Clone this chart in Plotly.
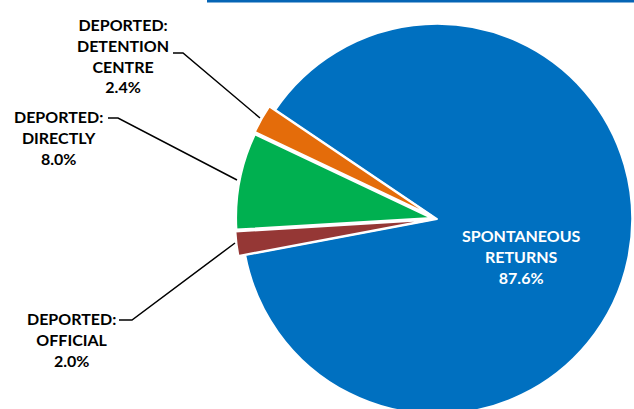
import plotly.graph_objects as go

# Share of returns by type (%)
labels = ["SPONTANEOUS RETURNS", "DEPORTED: OFFICIAL", "DEPORTED: DIRECTLY", "DEPORTED: DETENTION CENTRE"]
values = [87.6, 2.0, 8.0, 2.4]
colors = ["#0070C0", "#953735", "#00B050", "#E46C0A"]
pulls = [0, 0.035, 0.03, 0.035]

label_text = [
    "SPONTANEOUS<br>RETURNS<br>87.6%",
    "DEPORTED:<br>OFFICIAL<br>2.0%",
    "DEPORTED:<br>DIRECTLY<br>8.0%",
    "DEPORTED:<br>DETENTION<br>CENTRE<br>2.4%",
]

W, H = 640, 438


def px(x):
    return x / W


def py(y):
    return 1 - y / H


fig = go.Figure()

fig.add_trace(
    go.Pie(
        labels=labels,
        values=values,
        sort=False,
        direction="clockwise",
        rotation=-56,
        pull=pulls,
        marker=dict(colors=colors, line=dict(color="white", width=2)),
        textinfo="none",
        hoverinfo="label+percent",
        domain=dict(x=[px(437 - 202), px(437 + 202)], y=[py(219 + 202), py(219 - 202)]),
        showlegend=False,
    )
)

# label positions (pixel centres) and leader lines
label_pos = [(521, 256), (71, 339), (58, 137), (123, 55)]
label_color = ["white", "black", "black", "black"]
for txt, (lx, ly), c in zip(label_text, label_pos, label_color):
    fig.add_annotation(
        x=px(lx), y=py(ly), xref="paper", yref="paper",
        xanchor="center", yanchor="middle",
        text=txt, showarrow=False, align="center",
        font=dict(family="Lato", size=16, color=c, weight="bold"),
    )

leaders = [
    [(119, 320), (132, 320), (235, 243)],
    [(108, 118), (118, 118), (237, 180)],
    [(173, 53), (183, 53), (260, 118)],
]
for pts in leaders:
    path = "M " + " L ".join(f"{px(x)},{py(y)}" for x, y in pts)
    fig.add_shape(type="path", path=path, xref="paper", yref="paper",
                  line=dict(color="black", width=1.5))

# blue rule at the top
fig.add_shape(type="line", xref="paper", yref="paper",
              x0=px(207), x1=1, y0=py(1), y1=py(1),
              line=dict(color="#0565B5", width=3))

fig.update_layout(
    width=W, height=H,
    margin=dict(l=0, r=0, t=0, b=0),
    paper_bgcolor="white",
    plot_bgcolor="white",
)

fig.write_html("out.html", config={"displayModeBar": False},
               post_script="document.body.style.margin='0';")
